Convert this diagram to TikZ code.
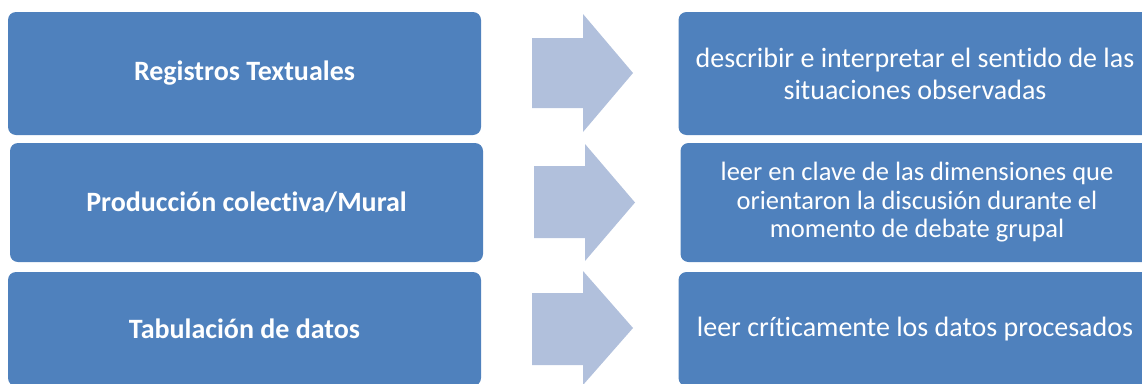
\documentclass[tikz,border=0pt]{standalone}
\usepackage{fontspec}
\setmainfont{Carlito}[Ligatures=NoCommon]
\usepackage{tikz}
\usepackage{xcolor}

\definecolor{cajaazul}{HTML}{4F81BD}
\definecolor{flechaazul}{HTML}{B1C0DC}

\tikzset{
	caja/.style={fill=cajaazul, rounded corners=8pt, text=white, align=center,
		minimum width=473pt, inner sep=0pt, font=\fontsize{28}{32}\selectfont},
	flecha/.style={fill=flechaazul}
}

\begin{document}
\begin{tikzpicture}[x=1pt, y=-1pt]
	\useasboundingbox (0,0) rectangle (1142,383);
	\clip (0,0) rectangle (1142,383);
	
	% columna izquierda
	\node[caja, minimum height=123pt, font=\fontsize{28}{32}\selectfont\bfseries] (reg) at (244.5, 73.5) {Registros Textuales};
	\node[caja, minimum height=119pt, font=\fontsize{28}{32}\selectfont\bfseries] (prod) at (246.5, 202.5) {Producción colectiva/Mural};
	\node[caja, minimum height=114pt, font=\fontsize{28}{32}\selectfont\bfseries] (tab) at (244.5, 329) {Tabulación de datos};
	
	% flechas
	\fill[flecha] (532,38) -- (583,38) -- (583,14) -- (633,73) -- (583,132) -- (583,108) -- (532,108) -- cycle;
	\fill[flecha] (534,166) -- (585,166) -- (585,144) -- (635,202.5) -- (585,261) -- (585,238) -- (534,238) -- cycle;
	\fill[flecha] (532,293) -- (583,293) -- (583,271) -- (633,328) -- (583,385) -- (583,365) -- (532,365) -- cycle;
	
	% columna derecha
	\node[caja, minimum height=123pt] (desc) at (915, 73.5) {describir e interpretar el sentido de las\\situaciones observadas};
	\node[caja, minimum height=119pt, font=\fontsize{26.5}{28.5}\selectfont] (clave) at (917, 202.5) {leer en clave de las dimensiones que\\orientaron la discusión durante el\\momento de debate grupal};
	\node[caja, minimum height=114pt] (crit) at (915, 329) {leer críticamente los datos procesados};
	
\end{tikzpicture}
\end{document}
